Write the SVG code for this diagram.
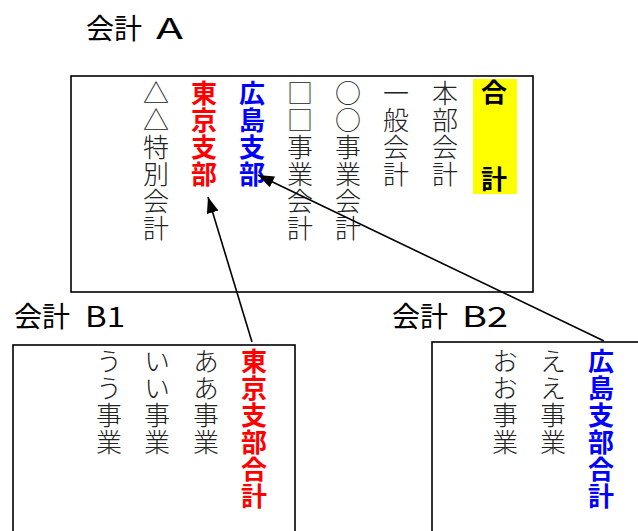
<svg xmlns="http://www.w3.org/2000/svg" width="638" height="531" viewBox="0 0 638 531">
<style>
.title{font-family:"Noto Sans CJK JP","Noto Sans",sans-serif;font-size:28px;fill:#000}
.v{writing-mode:vertical-rl;font-family:"Noto Sans CJK JP",sans-serif;font-size:26px;letter-spacing:1px}
.n{fill:#222;font-weight:300}
.r{fill:#ff0000;font-weight:bold}
.b{fill:#0000ff;font-weight:bold}
.k{fill:#000;font-weight:bold}
.box{fill:#fff;stroke:#000;stroke-width:1.6}
.conn{stroke:#000;stroke-width:1.6;fill:none}
</style>
<defs>
<marker id="ah" viewBox="0 0 16 12" refX="16" refY="6" markerWidth="16" markerHeight="12" markerUnits="userSpaceOnUse" orient="auto">
<path d="M0,0 L16,6 L0,12 z" fill="#000"/>
</marker>
</defs>
<rect width="638" height="531" fill="#fff"/>

<g id="accountA">
<text class="title" x="86" y="39">会計 <tspan x="156" textLength="27" lengthAdjust="spacingAndGlyphs">A</tspan></text>
<rect class="box" x="71" y="76" width="462" height="216"/>
<rect x="473" y="79" width="44" height="115" fill="#ffff00"/>
<text class="v k" x="494" y="79">合</text>
<text class="v k" x="494" y="166">計</text>
<text class="v n" x="445" y="80">本部会計</text>
<text class="v n" x="396" y="80">一般会計</text>
<text class="v n" x="348" y="80">○○事業会計</text>
<text class="v n" x="300" y="80">□□事業会計</text>
<text class="v b" x="252" y="80">広島支部</text>
<text class="v r" x="204" y="80">東京支部</text>
<text class="v n" x="156" y="80">△△特別会計</text>
</g>

<g id="accountB1">
<text class="title" x="14" y="327">会計 <tspan x="85" textLength="40" lengthAdjust="spacingAndGlyphs">B1</tspan></text>
<rect class="box" x="13" y="345" width="282" height="200"/>
<text class="v r" x="254" y="348">東京支部合計</text>
<text class="v n" x="206" y="348">ああ事業</text>
<text class="v n" x="157" y="348">いい事業</text>
<text class="v n" x="109" y="348">うう事業</text>
</g>

<g id="accountB2">
<text class="title" x="392" y="327">会計 <tspan x="462" textLength="46" lengthAdjust="spacingAndGlyphs">B2</tspan></text>
<rect class="box" x="432" y="342" width="220" height="200"/>
<text class="v b" x="601" y="348">広島支部合計</text>
<text class="v n" x="553" y="348">ええ事業</text>
<text class="v n" x="505" y="348">おお事業</text>
</g>

<g id="connectors">
<line class="conn" x1="252" y1="342" x2="208" y2="197" marker-end="url(#ah)"/>
<line class="conn" x1="604" y1="341" x2="258" y2="175" marker-end="url(#ah)"/>
</g>
</svg>
